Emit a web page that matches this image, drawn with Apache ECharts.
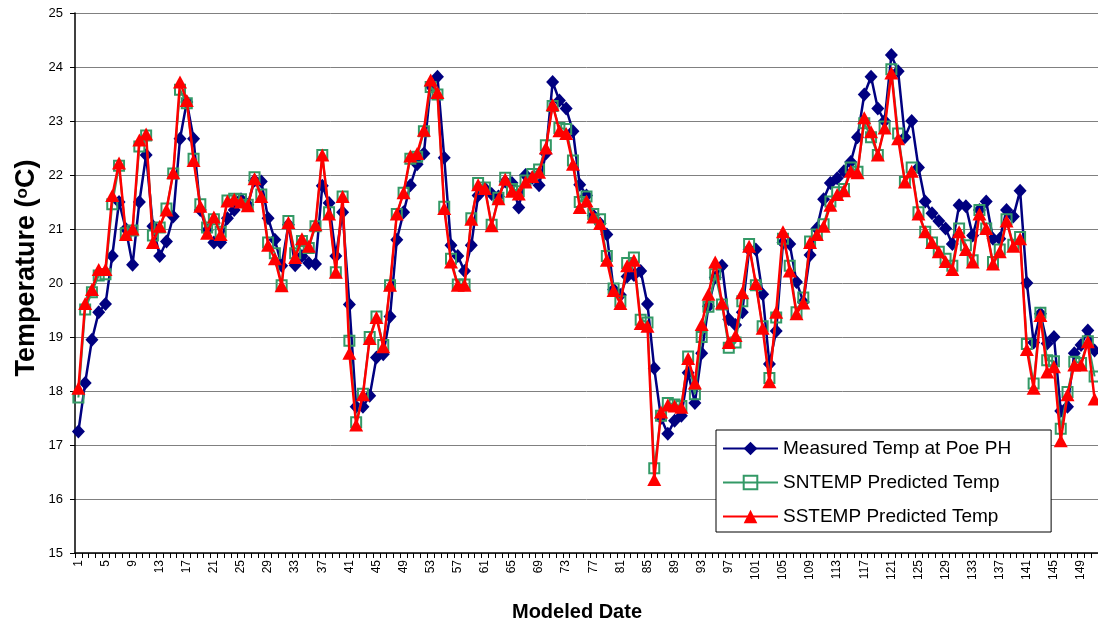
<!DOCTYPE html>
<html>
<head>
<meta charset="utf-8">
<script src="https://cdn.jsdelivr.net/npm/echarts@6/dist/echarts.min.js"></script>
<style>
  html, body { margin: 0; padding: 0; background: #fff; }
  #chart { width: 1098px; height: 625px; }
</style>
</head>
<body>
<div id="chart"></div>
<script>
// Modeled dates 1..151
const days = [];
for (let d = 1; d <= 151; d++) days.push(String(d));

// Measured water temperature at Poe PH (°C)
const measuredTemp = [
  17.25, 18.15, 18.95, 19.46, 19.61, 20.50, 21.50, 21.00, 20.34, 21.50,
  22.37, 21.05, 20.50, 20.77, 21.23, 22.67, 23.35, 22.67, 21.35, 20.97,
  20.75, 20.75, 21.20, 21.35, 21.55, 21.45, 21.90, 21.88, 21.20, 20.80,
  20.32, 21.08, 20.33, 20.50, 20.37, 20.35, 21.80, 21.48, 20.50, 21.31,
  19.60, 17.71, 17.71, 17.91, 18.62, 18.68, 19.38, 20.80, 21.31, 21.81,
  22.20, 22.40, 23.65, 23.82, 22.32, 20.70, 20.50, 20.22, 20.70, 21.62,
  21.75, 21.65, 21.60, 21.88, 21.85, 21.40, 22.00, 21.95, 21.81, 22.40,
  23.72, 23.38, 23.23, 22.81, 21.82, 21.62, 21.25, 21.10, 20.90, 19.88,
  19.78, 20.12, 20.15, 20.22, 19.61, 18.42, 17.50, 17.21, 17.45, 17.54,
  18.34, 17.78, 18.70, 19.57, 20.10, 20.32, 19.33, 19.22, 19.46, 20.62,
  20.62, 19.79, 18.50, 19.11, 20.75, 20.72, 20.02, 19.65, 20.52, 21.01,
  21.55, 21.85, 21.94, 22.07, 22.24, 22.70, 23.49, 23.82, 23.23, 23.00,
  24.22, 23.92, 22.70, 23.00, 22.14, 21.51, 21.29, 21.15, 21.01, 20.72,
  21.44, 21.42, 20.88, 21.35, 21.51, 20.82, 20.82, 21.35, 21.23, 21.71,
  20.00, 18.90, 19.43, 18.88, 19.00, 17.63, 17.71, 18.70, 18.85, 19.12,
  18.75
];

// SNTEMP model prediction (°C)
const sntempTemp = [
  17.88, 19.51, 19.83, 20.14, 20.16, 21.46, 22.17, 20.92, 20.97, 22.53,
  22.73, 20.88, 21.03, 21.38, 22.03, 23.58, 23.33, 22.30, 21.46, 21.03,
  21.18, 20.95, 21.53, 21.56, 21.55, 21.45, 21.96, 21.64, 20.75, 20.55,
  19.96, 21.15, 20.55, 20.78, 20.65, 21.05, 22.37, 21.31, 20.20, 21.60,
  18.93, 17.42, 17.95, 19.00, 19.38, 18.85, 19.96, 21.28, 21.67, 22.30,
  22.34, 22.81, 23.63, 23.49, 21.41, 20.45, 19.97, 19.97, 21.20, 21.85,
  21.77, 21.08, 21.58, 21.95, 21.74, 21.70, 21.90, 22.02, 22.10, 22.55,
  23.28, 22.87, 22.85, 22.27, 21.50, 21.60, 21.28, 21.18, 20.50, 19.90,
  19.66, 20.37, 20.47, 19.32, 19.27, 16.57, 17.54, 17.78, 17.75, 17.72,
  18.64, 17.94, 19.00, 19.56, 20.16, 19.60, 18.80, 18.90, 19.66, 20.72,
  19.96, 19.20, 18.24, 19.36, 20.82, 20.32, 19.46, 19.73, 20.77, 20.90,
  21.09, 21.51, 21.68, 21.74, 22.14, 22.06, 22.96, 22.70, 22.37, 22.90,
  23.96, 22.77, 21.87, 22.14, 21.31, 20.95, 20.75, 20.58, 20.45, 20.32,
  21.01, 20.70, 20.42, 21.35, 21.01, 20.39, 20.62, 21.18, 20.71, 20.85,
  18.87, 18.14, 19.45, 18.57, 18.55, 17.30, 17.98, 18.54, 18.52, 18.92,
  18.27
];

// SSTEMP model prediction (°C)
const sstempTemp = [
  18.05, 19.62, 19.88, 20.25, 20.25, 21.62, 22.22, 20.90, 21.00, 22.65,
  22.76, 20.75, 21.05, 21.35, 22.04, 23.72, 23.38, 22.27, 21.42, 20.92,
  21.22, 20.90, 21.52, 21.55, 21.50, 21.43, 21.93, 21.60, 20.70, 20.45,
  19.95, 21.12, 20.47, 20.82, 20.68, 21.08, 22.37, 21.28, 20.20, 21.60,
  18.70, 17.37, 17.93, 18.97, 19.36, 18.82, 19.96, 21.28, 21.67, 22.35,
  22.40, 22.83, 23.76, 23.53, 21.38, 20.39, 19.96, 19.96, 21.18, 21.82,
  21.75, 21.06, 21.56, 21.92, 21.70, 21.65, 21.87, 21.97, 22.05, 22.50,
  23.30, 22.82, 22.77, 22.20, 21.40, 21.52, 21.22, 21.10, 20.42, 19.86,
  19.62, 20.32, 20.42, 19.25, 19.20, 16.36, 17.61, 17.74, 17.72, 17.70,
  18.60, 18.15, 19.23, 19.79, 20.39, 19.63, 18.90, 19.03, 19.82, 20.68,
  19.99, 19.16, 18.17, 19.46, 20.95, 20.22, 19.43, 19.63, 20.75, 20.90,
  21.05, 21.44, 21.64, 21.71, 22.07, 22.04, 23.06, 22.80, 22.37, 22.87,
  23.89, 22.67, 21.87, 22.07, 21.28, 20.95, 20.75, 20.58, 20.40, 20.25,
  20.95, 20.62, 20.39, 21.28, 21.01, 20.35, 20.58, 21.15, 20.68, 20.82,
  18.77, 18.05, 19.40, 18.35, 18.45, 17.08, 17.93, 18.48, 18.48, 18.91,
  17.85
];

const seriesNames = [
  'Measured Temp at Poe PH',
  'SNTEMP Predicted Temp',
  'SSTEMP Predicted Temp'
];

const FONT = "'Liberation Sans', Arial, sans-serif";

const chart = echarts.init(document.getElementById('chart'), null, { renderer: 'canvas' });

chart.setOption({
  animation: false,
  backgroundColor: '#ffffff',
  grid: { left: 75, right: -2, top: 13, bottom: 72, containLabel: false },
  xAxis: {
    type: 'category',
    data: days,
    boundaryGap: true,
    axisLine: { lineStyle: { color: '#000', width: 1.5 } },
    axisTick: { show: true, interval: 0, length: 5, lineStyle: { color: '#000', width: 1 } },
    axisLabel: {
      interval: 3, rotate: 90, margin: 7,
      fontSize: 12, fontFamily: FONT, color: '#000'
    },
    splitLine: { show: false }
  },
  yAxis: {
    type: 'value',
    min: 15, max: 25, interval: 1,
    axisLine: { show: true, lineStyle: { color: '#000', width: 1.5 } },
    axisTick: { show: true, length: 5, lineStyle: { color: '#000' } },
    axisLabel: { margin: 12, fontSize: 13, fontFamily: FONT, color: '#000' },
    splitLine: { show: true, lineStyle: { color: '#808080', width: 1 } }
  },
  legend: {
    orient: 'vertical',
    left: 716, top: 430,
    data: seriesNames,
    itemWidth: 55, itemHeight: 17, itemGap: 15,
    padding: [9, 40, 6, 6],
    backgroundColor: '#fff',
    borderColor: '#000', borderWidth: 1,
    textStyle: { fontSize: 19, fontFamily: FONT, color: '#000' }
  },
  graphic: [
    {
      type: 'text',
      x: 27, y: 268,
      rotation: Math.PI / 2,
      style: {
        text: 'Temperature ({sup|o}C)',
        font: "bold 27px 'Liberation Sans', Arial, sans-serif",
        fill: '#000',
        align: 'center', verticalAlign: 'middle',
        rich: {
          sup: { fontSize: 17, fontWeight: 'bold', fontFamily: FONT, verticalAlign: 'top', fill: '#000' }
        }
      }
    },
    {
      type: 'text',
      x: 577, y: 612,
      style: {
        text: 'Modeled Date',
        font: "bold 20px 'Liberation Sans', Arial, sans-serif",
        fill: '#000',
        align: 'center', verticalAlign: 'middle'
      }
    }
  ],
  series: [
    {
      name: seriesNames[0], type: 'line', data: measuredTemp,
      showAllSymbol: true,
      symbol: 'diamond', symbolSize: [13, 14],
      lineStyle: { color: '#000080', width: 2.5 },
      itemStyle: { color: '#000080' },
      z: 2
    },
    {
      name: seriesNames[1], type: 'line', data: sntempTemp,
      showAllSymbol: true,
      symbol: 'rect', symbolSize: 10,
      lineStyle: { color: '#339966', width: 2 },
      itemStyle: { color: 'rgba(255,255,255,0)', borderColor: '#339966', borderWidth: 2 },
      z: 3
    },
    {
      name: seriesNames[2], type: 'line', data: sstempTemp,
      showAllSymbol: true,
      symbol: 'triangle', symbolSize: [14, 13],
      lineStyle: { color: '#ff0000', width: 2.5 },
      itemStyle: { color: '#ff0000' },
      z: 4
    }
  ]
});
</script>
</body>
</html>
